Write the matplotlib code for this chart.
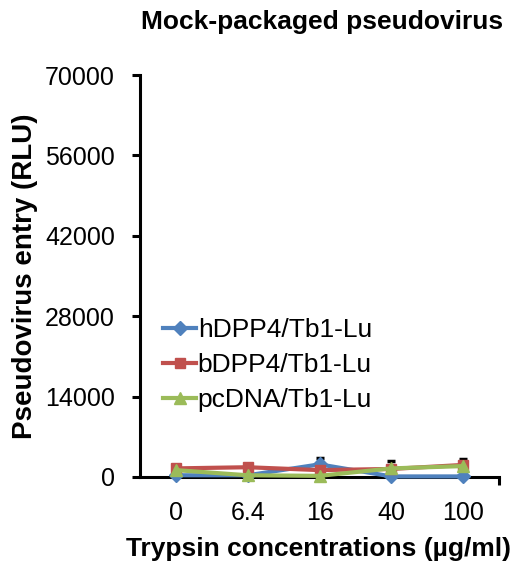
import matplotlib
matplotlib.use('Agg')
import matplotlib.pyplot as plt
import numpy as np

# Trypsin concentrations (category labels)
concLabels = ['0', '6.4', '16', '40', '100']

# Pseudovirus entry values (RLU)
hDPP4 = [300, 300, 2200, 100, 100]
bDPP4 = [1500, 1700, 1200, 1400, 2100]
pcDNA = [1200, 300, 200, 1500, 1900]

# Error bars (upper only)
hDPP4Err = [0, 0, 1100, 0, 0]
bDPP4Err = [0, 0, 0, 0, 1000]
pcDNAErr = [0, 0, 0, 1300, 0]

yTicks = [0, 14000, 28000, 42000, 56000, 70000]

plt.rcParams['font.family'] = ['Liberation Sans', 'DejaVu Sans']

fig = plt.figure(figsize=(5.13, 5.68), dpi=100)
# axes box: x 140..499 px, y 75..477 px
ax = fig.add_axes([140 / 513, 1 - 477 / 568, 359 / 513, 402 / 568])

x = np.arange(len(concLabels))
seriesList = [
    (hDPP4, hDPP4Err, 'hDPP4/Tb1-Lu', '#4F81BD', 'D', 7),
    (bDPP4, bDPP4Err, 'bDPP4/Tb1-Lu', '#C0504D', 's', 7.5),
    (pcDNA, pcDNAErr, 'pcDNA/Tb1-Lu', '#9BBB59', '^', 8),
]
for vals, err, name, col, mk, ms in seriesList:
    errArr = np.array(err)
    keep = errArr > 0
    if keep.any():
        ax.errorbar(x[keep], np.array(vals)[keep], yerr=[np.zeros(keep.sum()), errArr[keep]],
                    fmt='none', ecolor='black', elinewidth=1.5, capsize=3,
                    capthick=2.5, zorder=2, clip_on=False)
    ax.plot(x, vals, color=col, marker=mk, markersize=ms, linewidth=3,
            label=name, clip_on=False, zorder=3)

ax.set_xlim(-0.5, 4.5)
ax.set_ylim(0, 70000)
ax.set_yticks(yTicks)
ax.set_yticklabels([str(v) for v in yTicks], fontsize=18)
ax.set_xticks(x)
ax.set_xticklabels(concLabels, fontsize=18)
ax.tick_params(axis='x', length=0, pad=17)
ax.tick_params(axis='y', length=6, width=2.2, direction='out', pad=12)
ax.set_xticks([4.5], minor=True)
ax.tick_params(axis='x', which='minor', length=6, width=2.2, direction='out')

for side in ['top', 'right']:
    ax.spines[side].set_visible(False)
for side in ['left', 'bottom']:
    ax.spines[side].set_linewidth(2.2)

ax.legend(loc='center left', bbox_to_anchor=(0.065, 0.279), frameon=False,
          fontsize=19, handlelength=1.25, handletextpad=0.05, labelspacing=0.42,
          borderaxespad=0, borderpad=0)

fig.text(322 / 513, 1 - 22 / 568, 'Mock-packaged pseudovirus', ha='center', va='center',
         fontsize=19, fontweight='bold')
fig.text(25 / 513, 1 - 276 / 568, 'Pseudovirus entry (RLU)', ha='center', va='center',
         rotation=90, fontsize=20, fontweight='bold')
fig.text(318 / 513, 1 - 549 / 568, 'Trypsin concentrations (µg/ml)', ha='center', va='center',
         fontsize=19, fontweight='bold')

fig.savefig('out.png', dpi=100)
